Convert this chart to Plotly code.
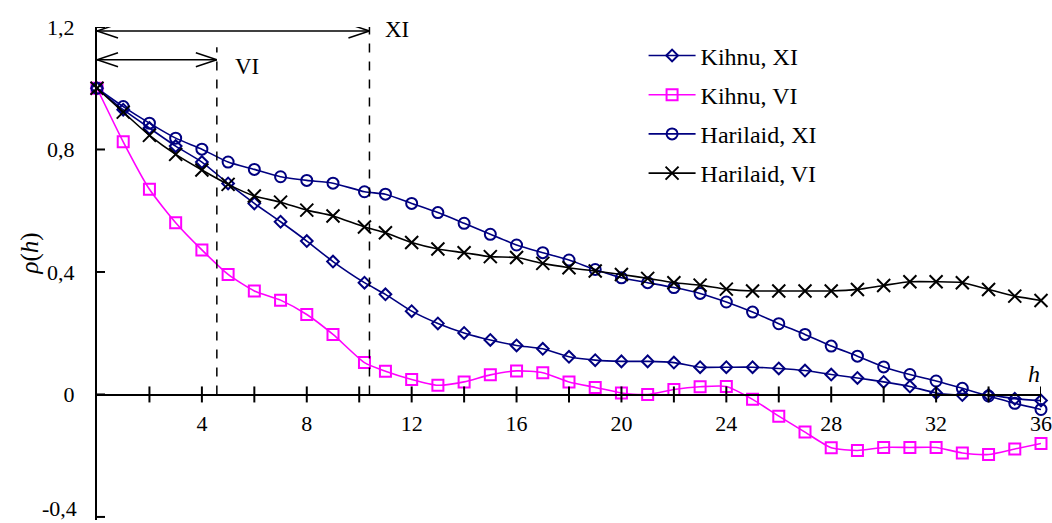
import plotly.graph_objects as go

# ---- data ----
lags = [0, 1, 2, 3, 4, 5, 6, 7, 8, 9, 10.2, 11, 12, 13, 14, 15, 16, 17, 18,
        19, 20, 21, 22, 23, 24, 25, 26, 27, 28, 29, 30, 31, 32, 33, 34, 35, 36]

kihnu_xi = [1.0, 0.93, 0.87, 0.811, 0.759, 0.689, 0.624, 0.564, 0.501, 0.434,
            0.365, 0.327, 0.272, 0.232, 0.201, 0.178, 0.160, 0.149, 0.123,
            0.112, 0.108, 0.108, 0.104, 0.089, 0.089, 0.089, 0.085, 0.078,
            0.065, 0.054, 0.041, 0.026, 0.005, -0.002, -0.002, -0.014, -0.020]

kihnu_vi = [1.0, 0.825, 0.670, 0.561, 0.472, 0.392, 0.338, 0.308, 0.261, 0.196,
            0.104, 0.076, 0.049, 0.030, 0.041, 0.064, 0.077, 0.071, 0.041,
            0.023, 0.005, 0.0, 0.016, 0.025, 0.026, -0.016, -0.071, -0.123,
            -0.174, -0.183, -0.173, -0.173, -0.173, -0.191, -0.196, -0.178, -0.160]

harilaid_xi = [1.0, 0.940, 0.886, 0.837, 0.801, 0.759, 0.735, 0.711, 0.699, 0.690,
               0.662, 0.654, 0.624, 0.594, 0.559, 0.523, 0.488, 0.463, 0.439,
               0.408, 0.381, 0.365, 0.349, 0.330, 0.302, 0.269, 0.231, 0.196,
               0.158, 0.125, 0.090, 0.065, 0.044, 0.020, -0.005, -0.029, -0.049]

harilaid_vi = [1.0, 0.922, 0.846, 0.784, 0.733, 0.686, 0.648, 0.628, 0.602, 0.583,
               0.547, 0.528, 0.496, 0.475, 0.463, 0.450, 0.447, 0.428, 0.414,
               0.403, 0.392, 0.379, 0.365, 0.357, 0.344, 0.338, 0.338, 0.338,
               0.338, 0.343, 0.356, 0.368, 0.368, 0.365, 0.343, 0.321, 0.307]

x_tick_vals = [4, 8, 12, 16, 20, 24, 28, 32, 36]
x_minor_ticks = [2, 4, 6, 8, 10, 12, 14, 16, 18, 20, 22, 24, 26, 28, 30, 32, 34, 36]
y_tick_vals = [-0.4, 0, 0.4, 0.8, 1.2]
y_tick_text = ["-0,4", "0", "0,4", "0,8", "1,2"]

vi_range = 4.57      # VI period marker
xi_range = 10.39     # XI period marker

FONT = "Liberation Serif, Times New Roman, serif"
NAVY = "#000080"
MAGENTA = "#FF00FF"

fig = go.Figure()

series = [
    ("Kihnu, XI", kihnu_xi, NAVY, "diamond-open", 9),
    ("Kihnu, VI", kihnu_vi, MAGENTA, "square-open", 11),
    ("Harilaid, XI", harilaid_xi, NAVY, "circle-open", 11),
    ("Harilaid, VI", harilaid_vi, "#000000", "x-thin-open", 13),
]
for i, (name, vals, col, sym, sz) in enumerate(series):
    fig.add_trace(go.Scatter(
        x=lags, y=vals, name=name, mode="lines+markers",
        line=dict(color=col, width=1.6, shape="spline", smoothing=0.6),
        marker=dict(symbol=sym, size=sz, color=col, line=dict(color=col, width=2)),
        cliponaxis=False, legendgroup=f"g{i}", hoverinfo="skip",
    ))

shapes = []
for t in x_minor_ticks:
    shapes.append(dict(type="line", xref="x", yref="y", x0=t, x1=t,
                       ysizemode="pixel", yanchor=0, y0=-8, y1=8,
                       line=dict(color="black", width=2)))
for t in y_tick_vals:
    shapes.append(dict(type="line", xref="x", yref="y", y0=t, y1=t,
                       xsizemode="pixel", xanchor=0, x0=-8, x1=8,
                       line=dict(color="black", width=2)))
shapes.append(dict(type="line", xref="x", yref="y", x0=vi_range, x1=vi_range,
                   y0=0, y1=1.134, line=dict(color="black", width=1.5, dash="dash")))
shapes.append(dict(type="line", xref="x", yref="y", x0=xi_range, x1=xi_range,
                   y0=0, y1=1.2, line=dict(color="black", width=1.5, dash="dash")))
for xend, yv in [(xi_range, 1.187), (vi_range, 1.093)]:
    shapes.append(dict(type="line", xref="x", yref="y", x0=0, x1=xend, y0=yv, y1=yv,
                       line=dict(color="black", width=1.5)))
    for anchor, dx in [(0, 21), (xend, -21)]:
        for dy in (7, -7):
            shapes.append(dict(type="line", xref="x", yref="y",
                               xsizemode="pixel", ysizemode="pixel",
                               xanchor=anchor, yanchor=yv,
                               x0=0, y0=0, x1=dx, y1=dy,
                               line=dict(color="black", width=1.5)))

# bottom y tick label is placed as an annotation nudged up so it stays inside the page
axis_tick_text = [t if v != y_tick_vals[0] else "" for v, t in zip(y_tick_vals, y_tick_text)]

annotations = [
    dict(text=y_tick_text[0], x=0, y=y_tick_vals[0], xref="x", yref="y",
         xanchor="right", yanchor="middle", xshift=-18, yshift=8,
         showarrow=False, font=dict(size=22)),
    dict(text="XI", x=xi_range, y=1.193, xref="x", yref="y", xanchor="left",
         yanchor="middle", xshift=14, showarrow=False, font=dict(size=23)),
    dict(text="VI", x=vi_range, y=1.072, xref="x", yref="y", xanchor="left",
         yanchor="middle", xshift=16, showarrow=False, font=dict(size=23)),
    dict(text="<i>h</i>", x=36, y=0, xref="x", yref="y", xanchor="center",
         yanchor="middle", xshift=-7, yshift=20, showarrow=False, font=dict(size=24)),
    dict(text="<i>ρ</i>(<i>h</i>)", x=-0.071, y=0.46, xref="paper", yref="y",
         xanchor="center", yanchor="middle", textangle=-90, showarrow=False,
         font=dict(size=25)),
]

fig.update_layout(
    width=1052, height=523,
    margin=dict(l=97, r=11, t=27, b=3, autoexpand=False),
    paper_bgcolor="white", plot_bgcolor="white",
    font=dict(family=FONT, size=22, color="black"),
    showlegend=True,
    legend=dict(x=0.579, y=0.987, xanchor="left", yanchor="top",
                bgcolor="rgba(0,0,0,0)", borderwidth=0, itemwidth=47,
                font=dict(size=24), tracegroupgap=5),
    xaxis=dict(range=[0, 36], anchor="free", position=0.253, automargin=False,
               showline=True, linecolor="black", linewidth=2,
               showgrid=False, zeroline=False, ticklabeloverflow="allow",
               tickvals=x_tick_vals, ticks="outside", ticklen=8,
               tickcolor="rgba(0,0,0,0)"),
    yaxis=dict(range=[-0.41, 1.2], automargin=False,
               showline=True, linecolor="black", linewidth=2,
               showgrid=False, zeroline=False, ticklabeloverflow="allow",
               tickvals=y_tick_vals, ticktext=axis_tick_text,
               ticks="outside", ticklen=16, tickcolor="rgba(0,0,0,0)"),
    shapes=shapes, annotations=annotations,
)

fig.write_html("out.html", config={"displayModeBar": False, "staticPlot": True},
               post_script="document.body.style.margin='0';document.body.style.overflow='hidden';")
